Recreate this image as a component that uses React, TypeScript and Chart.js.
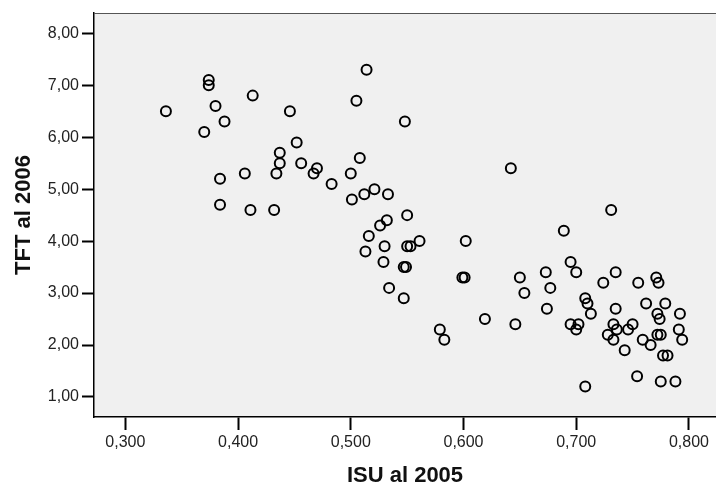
import React, { useEffect, useRef } from "react";
import { Chart, registerables } from "chart.js";

Chart.register(...registerables);

// ISU al 2005 (x) values
const isu2005: number[] = [
  0.336, 0.374, 0.374, 0.380, 0.388, 0.370, 0.413, 0.446, 0.452, 0.437,
  0.437, 0.434, 0.456, 0.470, 0.467, 0.483, 0.406, 0.384, 0.384, 0.411,
  0.432, 0.500, 0.501, 0.514, 0.505, 0.548, 0.508, 0.512, 0.521, 0.533,
  0.550, 0.532, 0.526, 0.516, 0.513, 0.530, 0.529, 0.550, 0.553, 0.561,
  0.547, 0.549, 0.534, 0.547, 0.602, 0.599, 0.601, 0.619, 0.579, 0.583,
  0.642, 0.731, 0.689, 0.695, 0.700, 0.650, 0.673, 0.677, 0.654, 0.674,
  0.646, 0.724, 0.735, 0.708, 0.710, 0.713, 0.735, 0.695, 0.702, 0.700,
  0.733, 0.728, 0.733, 0.708, 0.755, 0.771, 0.773, 0.762, 0.779, 0.772,
  0.774, 0.792, 0.736, 0.750, 0.746, 0.791, 0.759, 0.772, 0.775, 0.794,
  0.766, 0.743, 0.777, 0.781, 0.754, 0.775, 0.788,
];

// TFT al 2006 (y) values
const tft2006: number[] = [
  6.5, 7.1, 7.0, 6.6, 6.3, 6.1, 6.8, 6.5, 5.9, 5.7,
  5.5, 5.3, 5.5, 5.4, 5.3, 5.1, 5.3, 5.2, 4.7, 4.6,
  4.6, 5.3, 4.8, 7.3, 6.7, 6.3, 5.6, 4.9, 5.0, 4.9,
  4.5, 4.4, 4.3, 4.1, 3.8, 3.9, 3.6, 3.9, 3.9, 4.0,
  3.5, 3.5, 3.1, 2.9, 4.0, 3.3, 3.3, 2.5, 2.3, 2.1,
  5.4, 4.6, 4.2, 3.6, 3.4, 3.3, 3.4, 3.1, 3.0, 2.7,
  2.4, 3.2, 3.4, 2.9, 2.8, 2.6, 2.7, 2.4, 2.4, 2.3,
  2.4, 2.2, 2.1, 1.2, 3.2, 3.3, 3.2, 2.8, 2.8, 2.6,
  2.5, 2.6, 2.3, 2.4, 2.3, 2.3, 2.1, 2.2, 2.2, 2.1,
  2.0, 1.9, 1.8, 1.8, 1.4, 1.3, 1.3,
];

const xTicks: number[] = [0.3, 0.4, 0.5, 0.6, 0.7, 0.8];
const yTicks: number[] = [1, 2, 3, 4, 5, 6, 7, 8];

const xTitle = "ISU al 2005";
const yTitle = "TFT al 2006";

const FONT = "Arial, 'Liberation Sans', sans-serif";

export default function App() {
  const ref = useRef<HTMLCanvasElement | null>(null);

  useEffect(() => {
    if (!ref.current) return;
    const bgPlugin = {
      id: "plotBg",
      beforeDraw(chart: any) {
        const { ctx, chartArea } = chart;
        ctx.save();
        ctx.fillStyle = "#f0f0f0";
        ctx.fillRect(chartArea.left, chartArea.top, chartArea.right - chartArea.left, chartArea.bottom - chartArea.top);
        ctx.restore();
      },
      afterDraw(chart: any) {
        const { ctx, chartArea } = chart;
        ctx.save();
        ctx.strokeStyle = "#555";
        ctx.lineWidth = 1;
        ctx.beginPath();
        ctx.moveTo(chartArea.left, chartArea.top + 0.5);
        ctx.lineTo(chartArea.right, chartArea.top + 0.5);
        ctx.stroke();
        ctx.restore();
      },
    };

    const chart = new Chart(ref.current, {
      type: "scatter",
      data: {
        datasets: [
          {
            data: isu2005.map((x, i) => ({ x, y: tft2006[i] })),
            pointStyle: "circle",
            pointRadius: 5,
            pointBorderWidth: 2,
            borderColor: "#000",
            backgroundColor: "rgba(0,0,0,0)",
          },
        ],
      },
      options: {
        responsive: false,
        animation: false,
        layout: { autoPadding: false, padding: { left: 0, right: 0, top: 13, bottom: 0 } },
        plugins: { legend: { display: false }, tooltip: { enabled: false } },
        scales: {
          x: {
            type: "linear",
            min: 0.2722,
            max: 0.824,
            afterFit(scale: any) {
              scale.height = 70;
              scale.paddingRight = 0;
              scale.paddingLeft = 0;
            },
            afterBuildTicks(scale: any) {
              scale.ticks = xTicks.map((v) => ({ value: v }));
            },
            ticks: {
              color: "#222",
              font: { family: FONT, size: 16 },
              padding: 3,
              maxRotation: 0,
              callback: (v: any) => Number(v).toFixed(3).replace(".", ","),
            },
            grid: {
              drawOnChartArea: false,
              drawTicks: true,
              tickLength: 13,
              tickWidth: 2,
              tickColor: "#000",
            },
            border: { display: true, color: "#000", width: 1.5 },
            title: {
              display: true,
              text: xTitle,
              color: "#111",
              font: { family: FONT, size: 22, weight: "bold", lineHeight: 1 },
              padding: { top: 0, bottom: 0 },
            },
          },
          y: {
            type: "linear",
            min: 0.615,
            max: 8.39,
            afterFit(scale: any) {
              scale.width = 94;
              scale.paddingTop = 0;
              scale.paddingBottom = 0;
            },
            afterBuildTicks(scale: any) {
              scale.ticks = yTicks.map((v) => ({ value: v }));
            },
            ticks: {
              color: "#222",
              font: { family: FONT, size: 16 },
              padding: 3,
              callback: (v: any) => Number(v).toFixed(2).replace(".", ","),
            },
            grid: {
              drawOnChartArea: false,
              drawTicks: true,
              tickLength: 12,
              tickWidth: 2,
              tickColor: "#000",
            },
            border: { display: true, color: "#000", width: 1.5 },
            title: {
              display: true,
              text: yTitle,
              color: "#111",
              font: { family: FONT, size: 22, weight: "bold", lineHeight: 1 },
              padding: { top: 13, bottom: 0 },
            },
          },
        },
      },
      plugins: [bgPlugin],
    });
    return () => chart.destroy();
  }, []);

  return (
    <div style={{ position: "fixed", left: 0, top: 0, width: 716, height: 487, background: "#fff" }}>
      <canvas ref={ref} width={716} height={487} style={{ display: "block", width: 716, height: 487 }} />
    </div>
  );
}
